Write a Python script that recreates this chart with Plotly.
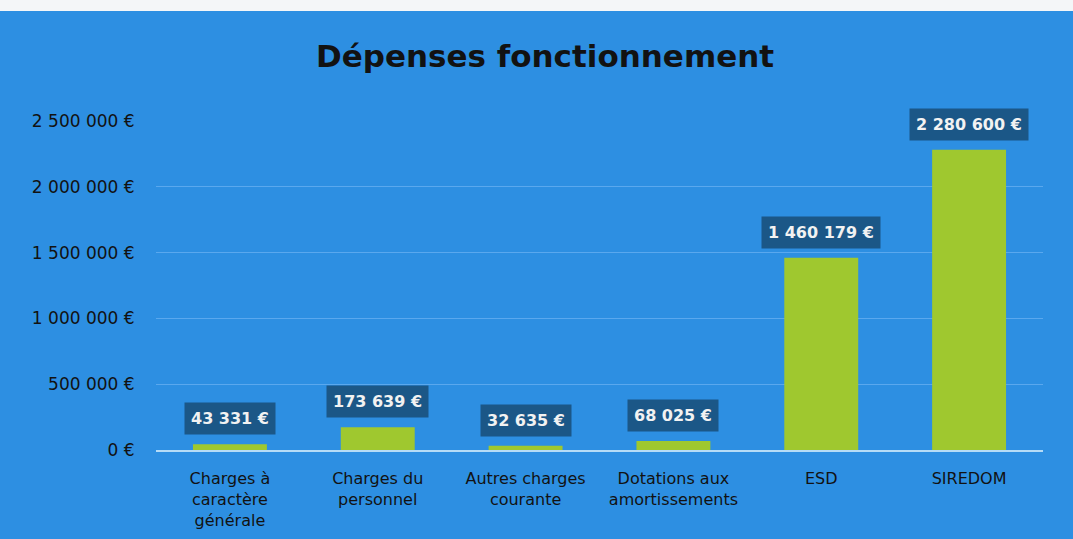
import plotly.graph_objects as go

categories = ["Charges à<br>caractère<br>générale", "Charges du<br>personnel", "Autres charges<br>courante",
              "Dotations aux<br>amortissements", "ESD", "SIREDOM"]
values = [43331, 173639, 32635, 68025, 1460179, 2280600]
value_labels = ["43 331 €", "173 639 €", "32 635 €", "68 025 €", "1 460 179 €", "2 280 600 €"]
tick_vals = [0, 500000, 1000000, 1500000, 2000000, 2500000]
tick_text = ["0 €", "500 000 €", "1 000 000 €", "1 500 000 €", "2 000 000 €", "2 500 000 €"]

BG = "#2d8fe2"
FONT = "'DejaVu Sans', sans-serif"

fig = go.Figure()
fig.add_trace(go.Bar(x=categories, y=values, width=0.5,
                     marker=dict(color="#9fc82f", line=dict(width=0)),
                     hoverinfo="skip"))

for c, v, t in zip(categories, values, value_labels):
    fig.add_annotation(x=c, y=v, xref="x", yref="y", text="<b>" + t + "</b>",
                       showarrow=False, yanchor="bottom", yshift=9,
                       bgcolor="#1b5787", borderpad=6,
                       font=dict(family=FONT, size=16, color="#f2f2f2"))

fig.add_annotation(xref="paper", yref="paper", x=0.438, y=1.0, yshift=45, yanchor="bottom",
                   text="<b>Dépenses fonctionnement</b>", showarrow=False,
                   font=dict(family=FONT, size=31, color="#121212"))

# white strip at the very top
fig.add_shape(type="rect", xref="paper", yref="paper", x0=-0.2, x1=1.05,
              y0=1 + 110 / 329, y1=1 + 122 / 329, fillcolor="#f4f6f8", line=dict(width=0), layer="below")

fig.update_layout(
    width=1073, height=539,
    paper_bgcolor=BG, plot_bgcolor=BG,
    margin=dict(l=156, r=30, t=121, b=89, autoexpand=False),
    showlegend=False, bargap=0.5,
    font=dict(family=FONT, size=16, color="#121212"),
)
fig.update_yaxes(range=[0, 2500000], tickvals=tick_vals, ticktext=tick_text, automargin=False,
                 showgrid=True, gridcolor="#5aa8ee", gridwidth=1, zeroline=False,
                 ticks="outside", ticklen=17, tickcolor="rgba(0,0,0,0)",
                 tickfont=dict(family=FONT, size=17, color="#121212"))
fig.update_xaxes(showline=True, linecolor="#b5dcf7", linewidth=2, showgrid=False, automargin=False,
                 ticks="outside", ticklen=13, tickcolor="rgba(0,0,0,0)",
                 tickfont=dict(family=FONT, size=16, color="#121212"))

fig.write_html("out.html", config={"displayModeBar": False},
               post_script="document.body.style.margin='0';")
